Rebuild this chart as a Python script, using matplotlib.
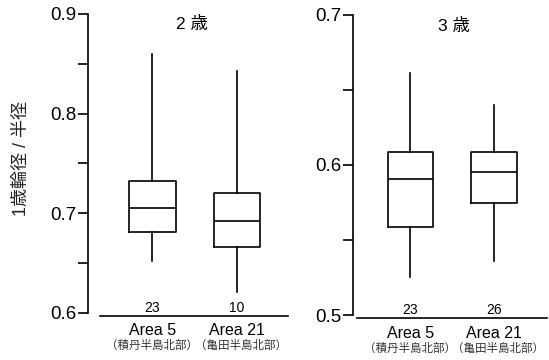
import matplotlib
matplotlib.use("Agg")
import matplotlib.pyplot as plt
from matplotlib.ticker import MultipleLocator

plt.rcParams['font.family'] = ['Liberation Sans', 'Noto Sans CJK JP']

# data: whisker low, Q1, median, Q3, whisker high
areas = ['Area 5', 'Area 21']
places = ['（積丹半島北部）', '（亀田半島北部）']

age2_low = [0.6525, 0.621]
age2_q1 = [0.6816, 0.6663]
age2_med = [0.705, 0.6923]
age2_q3 = [0.7324, 0.720]
age2_high = [0.8596, 0.8428]
age2_n = [23, 10]

age3_low = [0.5256, 0.5362]
age3_q1 = [0.5589, 0.5749]
age3_med = [0.5904, 0.5953]
age3_q3 = [0.6084, 0.6087]
age3_high = [0.6615, 0.6398]
age3_n = [23, 26]

titles = ['2 歳', '3 歳']

W, H = 549, 360
fig = plt.figure(figsize=(W / 100, H / 100), dpi=100)

# axes boxes in pixels
ax1 = fig.add_axes([88 / W, (H - 313) / H, (288 - 88) / W, (313 - 14) / H])
ax2 = fig.add_axes([353 / W, (H - 315) / H, (547 - 353) / W, (315 - 15) / H])


def draw(ax, low, q1, med, q3, high, n, title, ylim, xlim, line_start):
    stats = []
    for i in range(len(areas)):
        stats.append(dict(med=med[i], q1=q1[i], q3=q3[i],
                          whislo=low[i], whishi=high[i], fliers=[]))
    lw = 1.2
    ax.bxp(stats, positions=[1, 2], widths=0.55, showcaps=False,
           boxprops=dict(color='black', linewidth=lw),
           medianprops=dict(color='black', linewidth=lw),
           whiskerprops=dict(color='black', linewidth=lw))
    ax.set_ylim(*ylim)
    ax.set_xlim(*xlim)
    ax.yaxis.set_major_locator(MultipleLocator(0.1))
    ax.yaxis.set_minor_locator(MultipleLocator(0.05))
    ax.tick_params(axis='y', which='both', direction='out', length=7,
                   width=1.2, labelsize=13.5, pad=1.5)
    ax.set_xticks([])
    for s in ['top', 'right']:
        ax.spines[s].set_visible(False)
    ax.spines['left'].set_linewidth(1.2)
    ax.spines['bottom'].set_linewidth(1.2)
    ax.spines['bottom'].set_position(('outward', 2))
    ax.spines['bottom'].set_bounds(line_start, xlim[1])
    tr = ax.get_xaxis_transform()
    shift = [-0.01, 0.05]
    for i in range(len(areas)):
        ax.text(i + 1, 0.004, str(n[i]), transform=tr, ha='center',
                va='baseline', fontsize=10)
        ax.text(i + 1, -0.035, areas[i], transform=tr, ha='center',
                va='top', fontsize=11.5)
        ax.text(i + 1 + shift[i], -0.088, places[i], transform=tr,
                ha='center', va='top', fontsize=8.3, color='#333333',
                family=['Noto Sans CJK JP'])
    ax.text(0.5 * (xlim[0] + xlim[1]) + 0.05, 0.965, title, transform=tr,
            ha='center', va='center', fontsize=12.5)


draw(ax1, age2_low, age2_q1, age2_med, age2_q3, age2_high, age2_n,
     titles[0], (0.6, 0.9), (0.237, 2.604), 0.379)
draw(ax2, age3_low, age3_q1, age3_med, age3_q3, age3_high, age3_n,
     titles[1], (0.5, 0.7), (0.31, 2.64), 0.36)

fig.text(21 / W, 1 - 158 / H, '1歳輪径 / 半径', rotation=90, ha='center',
         va='center', fontsize=13, color='#222222')

fig.savefig('out.png', dpi=100)
